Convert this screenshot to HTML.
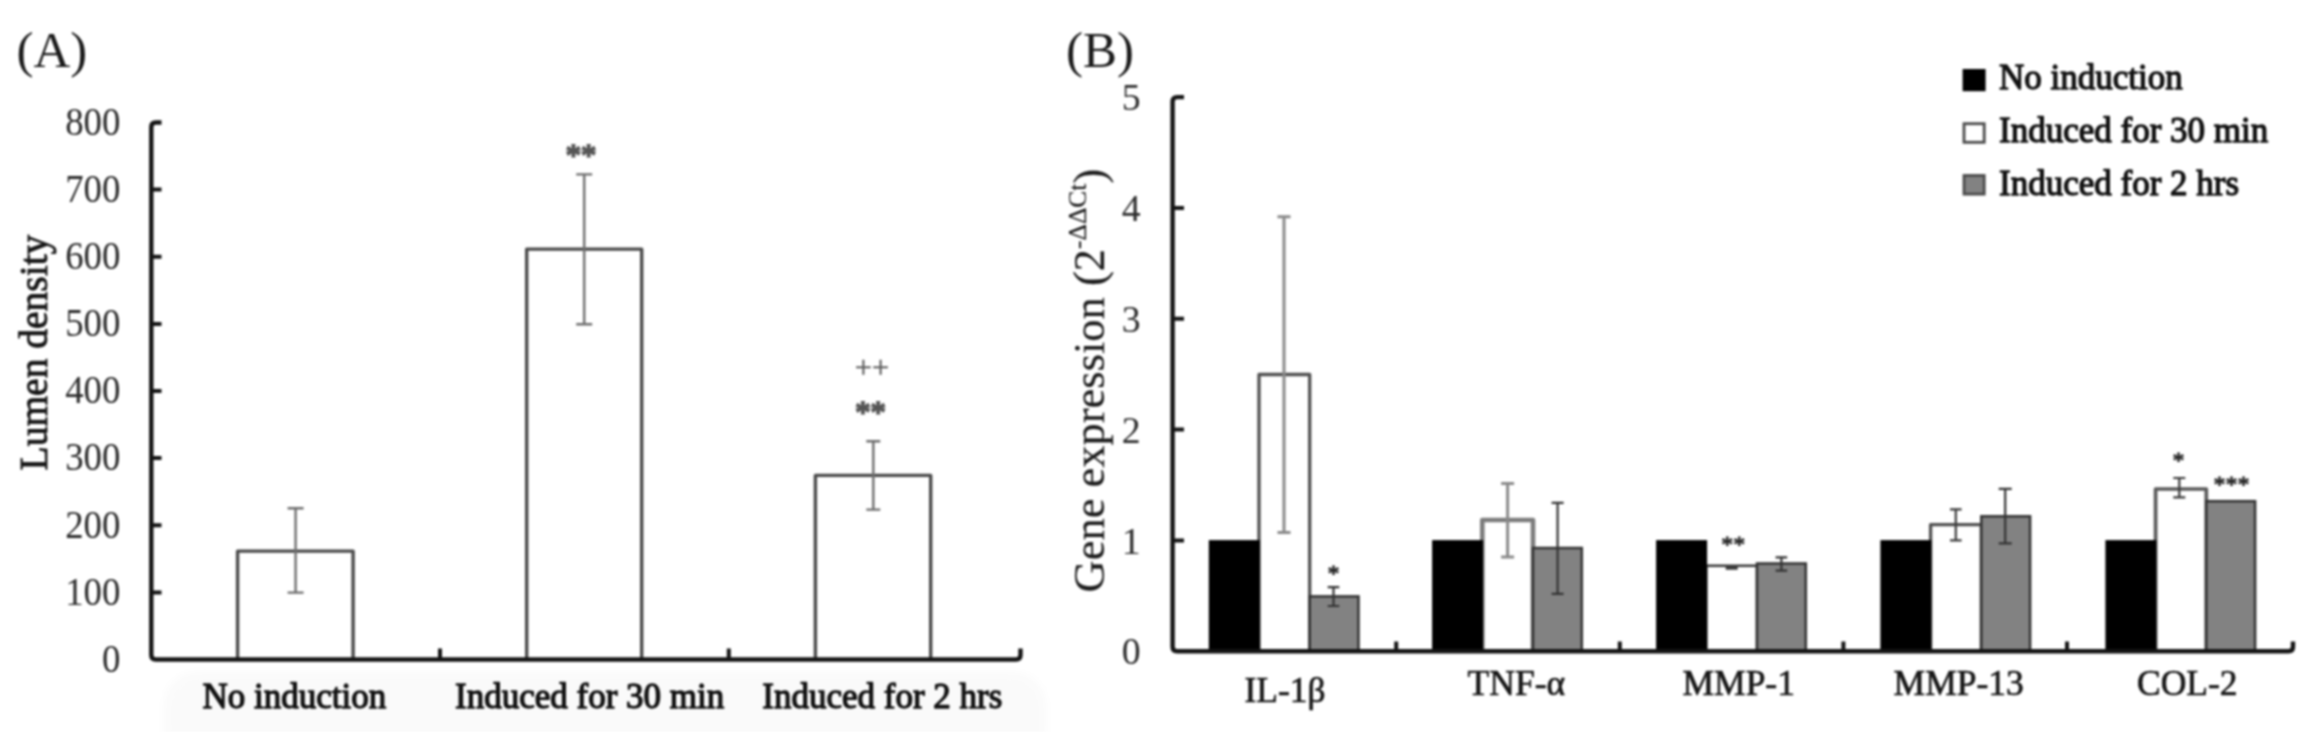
<!DOCTYPE html>
<html lang="en"><head><meta charset="utf-8"><title>Figure</title>
<style>
html,body{margin:0;padding:0;background:#fff;}
body{width:2308px;height:732px;overflow:hidden;}
svg{display:block;font-family:"Liberation Serif","DejaVu Serif",serif;filter:blur(0.85px);}
.tk{font-size:39px;fill:#2b2b2b;}
.cat{font-size:35px;fill:#111;stroke:#111;stroke-width:1.3px;stroke-linejoin:round;}
.catb{font-size:35.5px;fill:#161616;stroke:#161616;stroke-width:0.7px;}
.pl{font-size:51px;fill:#1a1a1a;}
.st{font-size:30.5px;fill:#555;stroke:#555;stroke-width:1.8px;}
.ss{font-size:24px;fill:#222;stroke:#222;stroke-width:0.8px;}
</style></head><body>
<svg width="2308" height="732" viewBox="0 0 2308 732">
<rect width="2308" height="732" fill="#fff"/>
<defs><filter id="sf" x="-5%" y="-20%" width="110%" height="140%"><feGaussianBlur stdDeviation="5"/></filter></defs>
<rect x="164" y="672" width="882" height="90" rx="34" fill="#fafafa" filter="url(#sf)"/>
<text class="pl" x="16.5" y="66.8">(A)</text>
<path d="M237.6 659.5 V551.1 H353.1 V659.5" fill="#fff" stroke="#4a4a4a" stroke-width="3.4" stroke-linejoin="round"/>
<path d="M526.7 659.5 V249.1 H641.7 V659.5" fill="#fff" stroke="#4a4a4a" stroke-width="3.4" stroke-linejoin="round"/>
<path d="M815.4 659.5 V475.4 H930.7 V659.5" fill="#fff" stroke="#4a4a4a" stroke-width="3.4" stroke-linejoin="round"/>
<path d="M295.6 508.3 V592.6 M287.6 508.3 H303.6 M287.6 592.6 H303.6" fill="none" stroke="#6e6e6e" stroke-width="2.4"/>
<path d="M584.2 174.4 V324.3 M576.2 174.4 H592.2 M576.2 324.3 H592.2" fill="none" stroke="#6e6e6e" stroke-width="2.4"/>
<path d="M873.3 441.3 V509.6 M866.3 441.3 H880.3 M866.3 509.6 H880.3" fill="none" stroke="#6e6e6e" stroke-width="2.4"/>
<path d="M161.5 122.5 H155.8 Q151.3 122.5 151.3 127.0 V655.0 Q151.3 659.5 155.8 659.5 H1016.0 Q1020.5 659.5 1020.5 655.0 V648.5" fill="none" stroke="#141414" stroke-width="4.4" stroke-linejoin="round"/>
<path d="M151.3 592.4 H161.5 M151.3 525.2 H161.5 M151.3 458.1 H161.5 M151.3 391.0 H161.5 M151.3 323.9 H161.5 M151.3 256.8 H161.5 M151.3 189.6 H161.5 M440.0 659.5 V648.5 M728.8 659.5 V648.5 " fill="none" stroke="#141414" stroke-width="4"/>
<text class="tk" transform="translate(120.4 671.7) scale(0.945 1)" text-anchor="end">0</text>
<text class="tk" transform="translate(120.4 604.6) scale(0.945 1)" text-anchor="end">100</text>
<text class="tk" transform="translate(120.4 537.5) scale(0.945 1)" text-anchor="end">200</text>
<text class="tk" transform="translate(120.4 470.3) scale(0.945 1)" text-anchor="end">300</text>
<text class="tk" transform="translate(120.4 403.2) scale(0.945 1)" text-anchor="end">400</text>
<text class="tk" transform="translate(120.4 336.1) scale(0.945 1)" text-anchor="end">500</text>
<text class="tk" transform="translate(120.4 268.9) scale(0.945 1)" text-anchor="end">600</text>
<text class="tk" transform="translate(120.4 201.8) scale(0.945 1)" text-anchor="end">700</text>
<text class="tk" transform="translate(120.4 134.7) scale(0.945 1)" text-anchor="end">800</text>
<text transform="translate(47 470.5) rotate(-90)" font-size="39.5" fill="#161616" stroke="#161616" stroke-width="0.9">Lumen density</text>
<text class="cat" x="202.5" y="708.3">No induction</text>
<text class="cat" x="455.0" y="708.3">Induced for 30 min</text>
<text class="cat" x="762.3" y="708.3">Induced for 2 hrs</text>
<text class="st" x="581" y="166" text-anchor="middle">**</text>
<text x="872" y="377.5" text-anchor="middle" font-size="30.5" fill="#555" stroke="#555" stroke-width="0.3">++</text>
<text class="st" x="870.6" y="423" text-anchor="middle">**</text>
<text class="pl" x="1066" y="66.8">(B)</text>
<path d="M1259.0 651.3 V374.5 H1309.7 V651.3" fill="#fff" stroke="#505050" stroke-width="3.3" stroke-linejoin="round"/>
<rect x="1309.7" y="596.4" width="48.8" height="54.9" fill="#828282" stroke="#333" stroke-width="2.5"/>
<rect x="1208.8" y="540.1" width="51.0" height="111.2" fill="#000"/>
<path d="M1482.3 651.3 V520.0 H1533.0 V651.3" fill="#fff" stroke="#7c7c7c" stroke-width="4.6" stroke-linejoin="round"/>
<rect x="1533.0" y="548.0" width="48.8" height="103.3" fill="#828282" stroke="#333" stroke-width="2.5"/>
<rect x="1432.1" y="540.1" width="51.0" height="111.2" fill="#000"/>
<path d="M1706.3 651.3 V565.8 H1757.0 V651.3" fill="#fff" stroke="#3a3a3a" stroke-width="2.6" stroke-linejoin="round"/>
<rect x="1757.0" y="563.5" width="48.8" height="87.8" fill="#828282" stroke="#333" stroke-width="2.5"/>
<rect x="1656.1" y="540.1" width="51.0" height="111.2" fill="#000"/>
<path d="M1930.6 651.3 V524.6 H1981.3 V651.3" fill="#fff" stroke="#505050" stroke-width="3.3" stroke-linejoin="round"/>
<rect x="1981.3" y="516.3" width="48.8" height="135.0" fill="#828282" stroke="#333" stroke-width="2.5"/>
<rect x="1880.4" y="540.1" width="51.0" height="111.2" fill="#000"/>
<path d="M2155.6 651.3 V489.0 H2206.3 V651.3" fill="#fff" stroke="#5a5a5a" stroke-width="3.7" stroke-linejoin="round"/>
<rect x="2206.3" y="501.2" width="48.8" height="150.1" fill="#828282" stroke="#333" stroke-width="2.5"/>
<rect x="2105.4" y="540.1" width="51.0" height="111.2" fill="#000"/>
<path d="M1284.0 216.7 V532.6 M1277.5 216.7 H1290.5 M1277.5 532.6 H1290.5" fill="none" stroke="#8a8a8a" stroke-width="3.0"/>
<path d="M1333.5 587.2 V606.0 M1327.7 587.2 H1339.3 M1327.7 606.0 H1339.3" fill="none" stroke="#333" stroke-width="2.2"/>
<path d="M1507.6 483.4 V557.1 M1501.1 483.4 H1514.1 M1501.1 557.1 H1514.1" fill="none" stroke="#8a8a8a" stroke-width="3.0"/>
<path d="M1557.6 502.8 V593.9 M1551.6 502.8 H1563.6 M1551.6 593.9 H1563.6" fill="none" stroke="#333" stroke-width="2.2"/>
<path d="M1731.7 566.3 V568.7 M1725.7 566.3 H1737.7 M1725.7 568.7 H1737.7" fill="none" stroke="#3a3a3a" stroke-width="2.2"/>
<path d="M1781.4 557.4 V570.7 M1775.6 557.4 H1787.2 M1775.6 570.7 H1787.2" fill="none" stroke="#333" stroke-width="2.2"/>
<path d="M1955.8 509.3 V540.3 M1950.0 509.3 H1961.6 M1950.0 540.3 H1961.6" fill="none" stroke="#3a3a3a" stroke-width="2.2"/>
<path d="M2005.2 488.8 V543.4 M1998.7 488.8 H2011.7 M1998.7 543.4 H2011.7" fill="none" stroke="#333" stroke-width="2.2"/>
<path d="M2179.3 478.0 V497.4 M2173.3 478.0 H2185.3 M2173.3 497.4 H2185.3" fill="none" stroke="#3a3a3a" stroke-width="2.2"/>
<path d="M1184.0 97.1 H1177.1 Q1172.6 97.1 1172.6 101.6 V646.8 Q1172.6 651.3 1177.1 651.3 H2288.5 Q2293.0 651.3 2293.0 646.8 V641.5" fill="none" stroke="#141414" stroke-width="4.4" stroke-linejoin="round"/>
<path d="M1172.6 540.5 H1184.0 M1172.6 429.6 H1184.0 M1172.6 318.8 H1184.0 M1172.6 207.9 H1184.0 M1396.2 651.3 V641.5 M1619.8 651.3 V641.5 M1843.4 651.3 V641.5 M2067.0 651.3 V641.5 " fill="none" stroke="#141414" stroke-width="4"/>
<text class="tk" transform="translate(1140.6 664.3) scale(0.97 1)" text-anchor="end">0</text>
<text class="tk" transform="translate(1140.6 553.5) scale(0.97 1)" text-anchor="end">1</text>
<text class="tk" transform="translate(1140.6 442.6) scale(0.97 1)" text-anchor="end">2</text>
<text class="tk" transform="translate(1140.6 331.8) scale(0.97 1)" text-anchor="end">3</text>
<text class="tk" transform="translate(1140.6 220.9) scale(0.97 1)" text-anchor="end">4</text>
<text class="tk" transform="translate(1140.6 110.1) scale(0.97 1)" text-anchor="end">5</text>
<text transform="translate(1103.5 592.5) rotate(-90)" font-size="44.5" fill="#1c1c1c" stroke="#1c1c1c" stroke-width="0.2">Gene expression (2<tspan font-size="25.5" dy="-17.5">-ΔΔCt</tspan><tspan dy="17.5">)</tspan></text>
<text class="catb" x="1244.5" y="701.7">IL-1β</text>
<text class="catb" x="1467.6" y="694.6">TNF-α</text>
<text class="catb" x="1682.5" y="694.6">MMP-1</text>
<text class="catb" x="1893.6" y="694.6">MMP-13</text>
<text class="catb" x="2137.0" y="694.7">COL-2</text>
<text class="ss" x="1333.4" y="581" text-anchor="middle">*</text>
<text class="ss" x="1733.2" y="552" text-anchor="middle">**</text>
<text class="ss" x="2178.5" y="468" text-anchor="middle">*</text>
<text class="ss" x="2231.6" y="492" text-anchor="middle">***</text>
<rect x="1962.6" y="69" width="23" height="22.2" fill="#000"/>
<rect x="1964" y="123.7" width="20.2" height="18.6" fill="#fff" stroke="#4a4a4a" stroke-width="2.8"/>
<rect x="1964" y="175.5" width="20.2" height="18.6" fill="#828282" stroke="#4a4a4a" stroke-width="2.8"/>
<text class="cat" x="1999" y="89.2">No induction</text>
<text class="cat" x="1999" y="142.0">Induced for 30 min</text>
<text class="cat" x="1999" y="194.9">Induced for 2 hrs</text>
</svg></body></html>
